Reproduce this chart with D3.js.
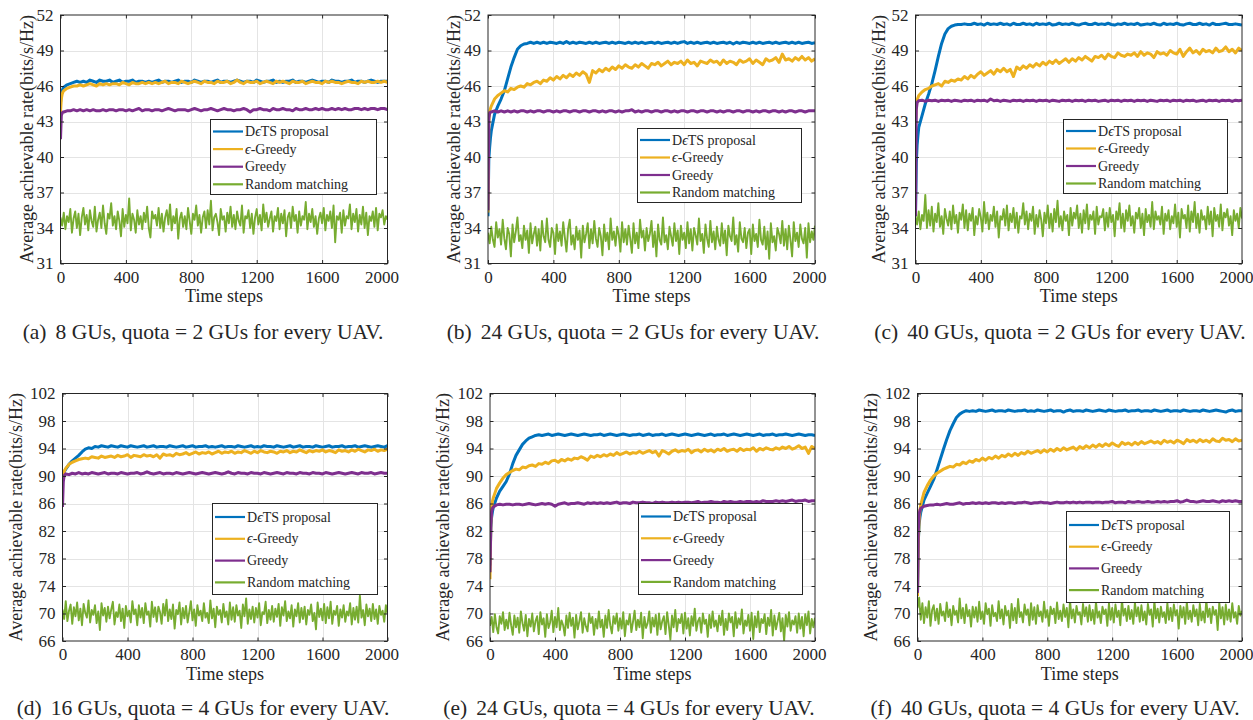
<!DOCTYPE html>
<html>
<head>
<meta charset="utf-8">
<script src="https://cdn.jsdelivr.net/npm/d3@7"></script>
<style>
  html, body { margin: 0; padding: 0; background: #fff; }
  svg { display: block; }
  svg text { font-family: "Liberation Serif", "Times New Roman", Times, "Nimbus Roman", "Noto Serif", "DejaVu Serif", serif !important; fill: #262626; }
</style>
</head>
<body>
<svg id="fig" width="1253" height="720"></svg>
<script>
// Time-step grid for the learning curves (dense at the start where rates climb fast)
const steps = [0, 5, 10, 15, ...d3.range(20, 2001, 20)];
// Finer time-step grid for the random-matching baseline
const stepsRandom = d3.range(0, 2001, 10);

const seriesNames = ["DϵTS proposal", "ϵ-Greedy", "Greedy", "Random matching"];
const xTicks = [0, 400, 800, 1200, 1600, 2000];
const yTicksTop = [31, 34, 37, 40, 43, 46, 49, 52];
const yTicksBottom = [66, 70, 74, 78, 82, 86, 90, 94, 98, 102];
const captionTags = ["(a)", "(b)", "(c)", "(d)", "(e)", "(f)"];
const captionTexts = [
  "8 GUs, quota = 2 GUs for every UAV.",
  "24 GUs, quota = 2 GUs for every UAV.",
  "40 GUs, quota = 2 GUs for every UAV.",
  "16 GUs, quota = 4 GUs for every UAV.",
  "24 GUs, quota = 4 GUs for every UAV.",
  "40 GUs, quota = 4 GUs for every UAV."
];

// ---- (a) 8 GUs, quota 2 ----
const detsA = [
  44.6,45.3,45.6,45.8,45.9,46.1,46.2,46.3,46.4,46.3,
  46.4,46.3,46.5,46.4,46.3,46.5,46.4,46.4,46.5,46.3,
  46.4,46.5,46.3,46.4,46.4,46.5,46.3,46.4,46.4,46.3,
  46.4,46.3,46.4,46.5,46.3,46.4,46.4,46.3,46.4,46.5,
  46.3,46.4,46.4,46.3,46.5,46.4,46.3,46.4,46.4,46.3,
  46.4,46.5,46.3,46.4,46.4,46.3,46.4,46.5,46.4,46.3,
  46.4,46.4,46.3,46.5,46.4,46.3,46.4,46.4,46.5,46.3,
  46.4,46.3,46.4,46.4,46.5,46.3,46.4,46.4,46.3,46.4,
  46.5,46.4,46.3,46.4,46.4,46.3,46.5,46.4,46.4,46.3,
  46.4,46.4,46.5,46.3,46.4,46.4,46.3,46.4,46.5,46.4,
  46.3,46.4,46.4,46.4
];
const epsA = [
  43.8,44.9,45.3,45.5,45.6,45.8,45.9,46.0,46.0,46.1,
  46.0,46.1,46.2,46.1,46.0,46.2,46.1,46.2,46.1,46.2,
  46.2,46.1,46.3,46.2,46.1,46.3,46.2,46.2,46.3,46.2,
  46.3,46.2,46.3,46.2,46.3,46.4,46.2,46.3,46.3,46.2,
  46.4,46.3,46.2,46.3,46.4,46.3,46.2,46.4,46.3,46.3,
  46.2,46.4,46.3,46.3,46.4,46.2,46.3,46.5,46.3,46.2,
  46.4,46.3,46.3,46.4,46.2,46.3,46.4,46.3,46.2,46.4,
  46.3,46.4,46.3,46.2,46.4,46.3,46.3,46.4,46.2,46.3,
  46.4,46.3,46.3,46.2,46.4,46.3,46.4,46.3,46.3,46.2,
  46.3,46.4,46.3,46.3,46.2,46.4,46.3,46.4,46.3,46.3,
  46.4,46.3,46.4,46.3
];
const greedyA = [
  41.5,43.5,43.7,43.8,43.8,43.9,43.9,44.0,43.9,44.0,
  43.9,44.0,43.9,44.0,43.9,43.9,44.0,43.9,44.0,44.0,
  43.9,44.0,44.0,43.9,44.0,43.9,44.0,44.1,43.9,44.0,
  44.0,43.9,44.0,44.0,43.9,44.0,44.1,44.0,43.9,44.0,
  44.0,44.0,43.9,44.0,44.1,44.0,43.9,44.0,44.0,44.1,
  44.0,43.9,44.0,44.1,44.0,44.0,43.9,44.0,44.0,44.1,
  44.0,43.8,44.0,44.0,44.1,44.0,44.0,43.9,44.1,44.0,
  44.0,44.1,44.0,44.0,43.9,44.1,44.0,44.0,44.1,44.0,
  44.0,44.1,44.0,44.1,44.0,44.0,44.1,44.0,44.1,44.0,
  44.1,44.0,44.0,44.1,44.1,44.0,44.1,44.0,44.1,44.1,
  44.0,44.1,44.1,44.0
];
const randomA = [
  34.9,34.2,35.3,33.9,35.0,34.5,35.6,33.6,34.8,35.4,
  34.0,35.2,33.4,34.9,35.7,34.3,35.1,33.8,35.5,34.6,
  34.1,35.8,33.7,34.7,35.3,34.0,35.9,34.4,33.5,35.2,
  34.8,36.1,34.2,35.0,33.9,35.4,34.6,33.3,35.6,34.1,
  35.1,34.4,36.5,33.8,35.2,34.7,33.6,35.5,34.3,35.0,
  33.9,35.3,34.5,35.8,34.0,33.2,35.4,34.8,35.1,34.2,
  35.7,34.0,35.2,33.7,34.9,35.5,34.3,36.0,33.8,35.0,
  34.4,35.6,33.1,34.8,35.3,34.1,35.0,33.9,35.7,34.6,
  33.5,35.2,34.7,35.9,34.2,35.1,33.6,34.9,35.4,34.0,
  35.5,34.3,36.3,33.8,34.9,35.2,34.5,33.4,35.6,34.7,
  35.0,33.7,35.3,34.4,35.8,34.1,35.1,33.9,35.4,34.6,
  34.2,35.9,33.6,35.0,34.8,35.5,34.0,35.2,33.5,34.9,
  35.6,34.3,35.1,33.8,36.0,34.5,35.3,34.1,34.8,35.4,
  33.7,35.0,34.6,35.7,33.9,35.2,34.4,35.5,33.3,34.9,
  35.3,34.0,35.8,34.6,35.1,33.6,35.4,34.2,35.0,34.7,
  36.2,33.9,35.2,34.5,35.6,34.1,35.0,33.5,34.8,35.3,
  34.4,35.7,33.8,35.1,34.6,35.4,34.0,35.9,32.8,35.0,
  34.7,35.3,33.6,35.5,34.2,35.0,34.8,36.0,33.9,35.2,
  34.5,35.6,33.7,35.1,34.3,35.8,34.0,35.3,33.4,35.0,
  34.6,35.4,34.1,35.7,33.8,35.2,34.9,35.5,34.3,35.0,
  34.7
];

// ---- (b) 24 GUs, quota 2 ----
const detsB = [
  35.0,39.8,40.8,41.6,42.2,43.6,44.3,44.9,45.6,46.6,
  47.6,48.4,49.1,49.4,49.55,49.6,49.7,49.6,49.7,49.6,
  49.7,49.6,49.7,49.65,49.6,49.7,49.6,49.75,49.6,49.7,
  49.6,49.7,49.65,49.6,49.7,49.6,49.7,49.6,49.65,49.7,
  49.6,49.7,49.6,49.7,49.65,49.6,49.7,49.6,49.7,49.6,
  49.7,49.6,49.65,49.7,49.6,49.7,49.6,49.65,49.7,49.6,
  49.7,49.6,49.7,49.75,49.6,49.7,49.6,49.7,49.6,49.65,
  49.7,49.6,49.7,49.6,49.65,49.7,49.6,49.7,49.55,49.7,
  49.6,49.7,49.65,49.6,49.7,49.6,49.7,49.6,49.65,49.7,
  49.6,49.7,49.6,49.65,49.7,49.6,49.7,49.6,49.7,49.6,
  49.65,49.7,49.6,49.65
];
const epsB = [
  35.3,43.0,43.8,44.1,44.3,44.9,45.2,45.4,45.6,45.5,
  45.8,45.7,45.9,46.0,45.9,46.2,46.1,46.3,46.4,46.2,
  46.5,46.4,46.7,46.5,46.8,46.6,46.9,46.7,47.0,46.8,
  47.1,46.9,47.2,47.0,46.3,47.3,47.1,47.4,47.2,47.5,
  47.3,47.6,47.4,47.7,47.5,47.8,47.6,47.5,47.8,47.6,
  47.9,47.7,47.5,47.9,47.8,48.0,47.7,47.9,48.1,47.8,
  48.0,47.9,48.1,47.8,48.2,47.9,48.0,47.7,48.1,48.0,
  47.9,48.2,48.0,48.1,47.8,48.2,47.9,48.1,48.0,47.8,
  48.2,48.0,48.1,48.3,47.9,48.2,48.0,47.8,48.3,48.1,
  48.2,48.4,48.0,48.7,48.2,48.3,48.1,48.4,48.2,48.5,
  48.2,48.4,48.1,48.3
];
const greedyB = [
  35.5,43.3,43.7,43.8,43.8,43.9,43.8,43.9,43.8,43.9,
  43.8,43.9,43.8,43.9,43.9,43.8,43.9,43.8,43.9,43.9,
  43.8,43.9,43.9,43.8,43.9,43.8,43.9,43.9,43.8,43.9,
  43.9,43.8,43.9,43.9,43.8,43.9,43.9,43.8,43.9,43.8,
  43.9,43.9,43.8,43.9,43.8,43.9,43.9,44.0,43.8,43.9,
  43.8,43.9,43.9,43.8,43.9,43.9,43.8,43.9,43.9,43.8,
  43.9,43.8,43.9,43.9,43.8,43.9,43.9,43.8,43.9,43.9,
  43.8,43.9,43.9,43.8,43.9,43.8,43.9,43.9,43.8,43.9,
  43.9,43.8,43.9,43.9,43.8,43.9,43.8,43.9,43.9,43.8,
  43.9,43.9,43.8,43.9,43.8,43.9,43.9,43.8,43.9,43.9,
  43.8,43.9,43.9,43.9
];
const randomB = [
  33.6,32.7,34.1,33.0,32.4,34.5,33.2,33.9,32.6,34.7,
  33.1,32.2,34.0,33.5,31.6,34.3,32.8,33.7,34.9,32.9,
  33.4,32.3,34.2,33.0,33.8,31.9,34.4,32.7,33.5,34.1,
  32.5,33.9,32.1,34.6,33.3,32.8,34.8,33.0,32.4,34.0,
  33.6,31.8,34.3,32.9,33.7,32.5,34.5,33.2,32.0,33.9,
  34.7,32.6,33.4,32.2,34.1,33.0,33.8,31.5,34.2,32.8,
  33.5,34.4,32.3,33.9,32.7,34.6,33.1,32.4,34.0,33.3,
  31.7,34.3,32.9,33.6,32.2,34.8,33.0,33.7,32.5,34.1,
  33.4,32.0,34.5,32.8,33.9,32.6,34.2,33.1,31.9,34.4,
  32.7,33.6,32.3,34.7,33.2,33.8,32.1,34.0,32.9,33.5,
  34.6,32.4,33.7,31.6,34.3,33.0,32.6,34.9,32.8,33.4,
  32.2,34.1,33.3,32.5,34.4,32.9,33.8,31.8,34.2,33.0,
  33.6,32.3,34.5,32.7,33.9,32.1,34.0,33.4,32.6,34.8,
  32.9,33.5,31.9,34.3,33.1,32.4,34.6,32.8,33.7,32.2,
  34.1,33.0,32.5,34.4,32.7,33.8,31.7,34.2,33.3,32.9,
  34.9,32.6,33.4,32.0,34.5,33.1,32.8,34.0,32.3,33.6,
  33.9,31.8,34.3,32.9,33.5,32.4,34.7,33.0,32.6,34.1,
  32.2,33.7,31.4,34.4,32.8,33.3,32.1,34.0,33.5,32.7,
  34.6,32.5,33.9,32.2,34.2,33.0,31.6,34.5,32.9,33.6,
  32.4,34.3,33.1,32.7,34.0,31.5,34.4,32.8,33.7,33.0,
  34.2
];

// ---- (c) 40 GUs, quota 2 ----
const detsC = [
  35.0,39.5,41.0,41.8,42.5,43.5,44.5,45.3,46.2,47.3,
  48.5,49.6,50.4,50.85,51.05,51.15,51.2,51.2,51.25,51.2,
  51.2,51.3,51.2,51.25,51.15,51.3,51.2,51.25,51.2,51.3,
  51.2,51.25,51.15,51.3,51.2,51.2,51.3,51.2,51.25,51.15,
  51.3,51.2,51.25,51.2,51.3,51.15,51.2,51.3,51.2,51.25,
  51.2,51.3,51.2,51.15,51.25,51.3,51.2,51.2,51.3,51.2,
  51.25,51.2,51.3,51.2,51.15,51.25,51.2,51.3,51.2,51.25,
  51.2,51.3,51.15,51.2,51.25,51.2,51.3,51.2,51.15,51.3,
  51.2,51.25,51.2,51.3,51.2,51.15,51.25,51.3,51.2,51.2,
  51.3,51.2,51.25,51.15,51.3,51.2,51.2,51.25,51.3,51.2,
  51.2,51.25,51.2,51.15
];
const epsC = [
  43.0,44.3,44.8,45.0,45.2,45.5,45.7,45.8,46.0,46.1,
  46.2,46.0,46.4,46.3,46.5,46.4,46.6,46.5,46.8,46.6,
  46.9,46.7,47.0,47.2,46.9,47.1,47.3,47.0,47.4,47.2,
  47.5,47.2,47.4,46.8,47.6,47.4,47.7,47.5,47.8,47.6,
  47.9,47.7,48.0,47.8,48.1,47.9,48.2,47.9,48.1,48.3,
  48.0,48.3,48.1,48.4,48.2,48.5,48.3,48.1,48.5,48.4,
  48.6,48.3,48.7,48.5,48.4,48.8,48.6,48.5,48.7,48.6,
  48.8,48.5,48.9,48.6,48.8,48.7,48.4,48.9,48.7,48.8,
  48.6,49.0,48.8,48.7,49.1,48.5,48.9,49.2,48.8,49.0,
  48.7,49.1,48.9,49.0,48.8,49.2,48.9,49.0,49.3,48.9,
  49.1,48.8,49.2,49.0
];
const greedyC = [
  35.0,44.0,44.6,44.7,44.75,44.8,44.7,44.8,44.75,44.8,
  44.7,44.8,44.75,44.8,44.7,44.8,44.75,44.7,44.8,44.75,
  44.8,44.7,44.8,44.75,44.8,44.7,44.9,44.75,44.8,44.7,
  44.8,44.75,44.7,44.8,44.75,44.8,44.7,44.8,44.75,44.8,
  44.7,44.8,44.75,44.8,44.7,44.8,44.75,44.7,44.8,44.75,
  44.8,44.7,44.8,44.75,44.8,44.7,44.8,44.75,44.8,44.7,
  44.75,44.8,44.7,44.8,44.75,44.8,44.7,44.8,44.75,44.8,
  44.7,44.8,44.75,44.8,44.7,44.8,44.75,44.7,44.8,44.75,
  44.8,44.7,44.8,44.75,44.8,44.7,44.8,44.75,44.8,44.7,
  44.75,44.8,44.7,44.8,44.75,44.8,44.7,44.8,44.75,44.8,
  44.7,44.8,44.75,44.8
];
const randomC = [
  35.0,34.3,35.4,33.9,35.1,34.6,36.8,34.0,35.5,34.2,
  35.8,33.7,35.2,34.5,36.1,34.1,35.0,33.5,35.6,34.8,
  34.2,35.4,33.9,35.9,34.4,35.1,33.6,35.3,34.7,36.0,
  34.0,35.5,33.8,35.2,34.6,35.7,33.4,35.0,34.3,35.6,
  34.9,33.7,36.2,34.4,35.3,33.9,35.1,34.6,35.8,34.1,
  35.4,33.2,35.0,34.7,35.6,34.2,35.9,33.8,35.2,34.5,
  35.7,34.0,35.3,33.6,35.0,34.8,36.1,34.3,35.4,33.9,
  35.2,34.6,35.8,33.5,35.1,34.1,35.5,34.7,33.3,35.3,
  34.4,35.9,34.0,35.2,33.7,35.6,34.5,36.3,34.1,35.0,
  33.8,35.4,34.6,35.1,33.4,35.7,34.2,35.3,34.8,35.9,
  34.0,35.2,33.6,35.5,34.4,36.0,33.9,35.1,34.7,35.4,
  33.5,35.8,34.3,35.0,34.9,35.6,33.8,35.3,34.1,35.7,
  34.5,35.1,33.3,35.4,34.7,36.1,34.0,35.2,33.7,35.5,
  34.6,35.9,34.2,35.0,33.6,35.3,34.8,35.7,34.0,35.2,
  33.4,35.6,34.5,35.1,34.1,36.2,33.9,35.4,34.7,35.0,
  34.3,35.8,33.5,35.2,34.6,35.5,33.9,35.0,34.4,36.0,
  34.1,35.3,33.2,35.6,34.8,35.1,34.0,35.9,33.7,35.4,
  34.5,36.2,34.0,35.2,33.6,35.5,34.7,35.0,33.9,35.8,
  34.3,35.4,33.3,35.7,34.6,35.1,34.1,36.0,33.8,35.3,
  34.9,35.6,34.2,35.0,33.4,35.5,34.6,35.2,34.0,35.7,
  34.8
];

// ---- (d) 16 GUs, quota 4 ----
const detsD = [
  89.0,90.0,90.5,90.8,91.0,91.7,92.2,92.6,93.0,93.5,
  93.9,94.1,94.0,94.3,94.2,94.4,94.3,94.2,94.4,94.3,
  94.2,94.4,94.3,94.2,94.4,94.3,94.2,94.3,94.4,94.2,
  94.3,94.4,94.2,94.3,94.3,94.2,94.4,94.3,94.2,94.3,
  94.4,94.2,94.3,94.4,94.2,94.3,94.3,94.4,94.2,94.3,
  94.2,94.3,94.4,94.2,94.3,94.3,94.2,94.4,94.3,94.2,
  94.3,94.4,94.2,94.3,94.2,94.4,94.3,94.3,94.2,94.4,
  94.3,94.2,94.3,94.4,94.2,94.3,94.4,94.2,94.3,94.3,
  94.2,94.4,94.3,94.2,94.3,94.4,94.2,94.3,94.3,94.4,
  94.2,94.3,94.3,94.4,94.2,94.3,94.4,94.3,94.2,94.3,
  94.4,94.3,94.2,94.4
];
const epsD = [
  89.5,90.2,90.6,90.9,91.1,91.7,92.0,92.2,92.4,92.5,
  92.6,92.5,92.8,92.7,92.6,92.9,92.7,92.8,92.9,92.7,
  93.0,92.8,92.9,93.1,92.7,93.0,92.9,92.8,93.1,92.9,
  93.0,92.8,93.1,92.6,93.2,93.0,93.1,92.9,93.3,93.1,
  93.2,93.4,93.1,93.3,93.5,93.2,93.4,93.3,93.5,93.2,
  93.4,93.6,93.3,93.5,93.4,93.6,93.3,93.5,93.4,93.7,
  93.5,93.3,93.6,93.4,93.7,93.5,93.4,93.6,93.5,93.3,
  93.6,93.5,93.7,93.4,93.6,93.5,93.8,93.6,93.4,93.7,
  93.5,93.7,93.6,93.8,93.5,93.7,93.6,93.4,93.8,93.6,
  93.7,93.5,93.8,93.6,93.9,93.7,93.5,93.8,93.7,93.9,
  93.6,93.8,93.7,93.9
];
const greedyD = [
  85.5,89.2,90.0,90.2,90.3,90.2,90.4,90.3,90.5,90.3,
  90.4,90.3,90.5,90.4,90.3,90.4,90.5,90.3,90.4,90.4,
  90.3,90.5,90.4,90.3,90.4,90.4,90.5,90.3,90.4,90.6,
  90.4,90.3,90.4,90.5,90.3,90.4,90.4,90.3,90.5,90.4,
  90.3,90.4,90.5,90.4,90.3,90.4,90.5,90.4,90.3,90.4,
  90.5,90.4,90.3,90.4,90.6,90.4,90.3,90.5,90.4,90.4,
  90.3,90.5,90.4,90.4,90.3,90.5,90.4,90.3,90.4,90.5,
  90.4,90.3,90.5,90.4,90.4,90.3,90.5,90.4,90.4,90.3,
  90.5,90.4,90.4,90.3,90.5,90.4,90.3,90.4,90.5,90.4,
  90.3,90.4,90.5,90.4,90.3,90.5,90.4,90.4,90.5,90.3,
  90.4,90.5,90.4,90.4
];
const randomD = [
  70.6,69.2,71.8,68.9,70.4,71.3,68.5,70.9,69.6,71.6,
  69.0,70.7,68.3,71.4,70.1,69.4,71.9,68.7,70.5,69.8,
  71.2,68.6,70.3,67.6,71.5,69.7,70.8,68.8,71.0,69.3,
  70.6,71.7,68.4,70.2,69.5,71.3,68.9,70.7,67.9,71.1,
  69.6,70.4,68.7,71.8,69.9,70.6,68.3,71.2,69.4,70.8,
  68.6,71.5,69.8,70.3,68.1,71.7,69.5,70.9,68.8,71.0,
  70.2,68.5,71.4,69.7,72.0,68.9,70.6,69.2,71.3,67.8,
  70.5,69.9,71.6,68.4,70.8,69.3,71.1,68.7,70.2,71.8,
  69.0,70.6,68.2,71.2,69.7,70.4,68.9,71.5,69.4,70.1,
  68.6,71.9,69.3,70.7,68.0,71.0,69.8,70.5,68.7,71.4,
  69.5,70.3,68.4,71.6,69.1,70.9,68.8,71.2,69.7,70.4,
  67.9,71.3,69.6,72.2,68.5,70.6,69.2,71.0,68.7,70.8,
  69.4,71.5,68.3,70.2,69.9,71.7,68.6,70.5,69.1,71.1,
  68.8,70.7,69.5,71.4,68.2,70.9,69.7,71.8,68.9,70.3,
  69.3,71.2,68.1,70.6,69.6,71.5,68.7,70.8,69.2,71.0,
  68.4,70.5,69.8,71.3,68.9,70.1,67.7,71.6,69.5,70.7,
  69.0,71.4,68.6,70.9,69.3,71.7,68.5,70.4,69.8,71.1,
  68.2,70.6,69.4,71.2,68.8,70.3,69.7,71.5,68.4,70.8,
  69.1,71.0,68.7,72.6,69.4,70.5,68.3,71.3,69.6,70.7,
  68.9,71.4,69.2,70.6,68.5,71.1,69.8,70.4,68.8,71.2,
  70.0
];

// ---- (e) 24 GUs, quota 4 ----
const detsE = [
  77.0,82.5,84.0,84.8,85.4,86.8,87.8,88.5,89.2,90.3,
  91.8,93.0,93.8,94.6,95.1,95.5,95.7,95.9,96.0,95.9,
  96.0,96.1,95.9,96.0,96.1,96.0,95.9,96.0,96.1,96.0,
  95.9,96.0,96.1,96.0,95.9,96.0,96.0,96.1,95.9,96.0,
  96.1,96.0,95.9,96.0,96.1,96.0,95.9,96.0,96.0,96.1,
  95.9,96.0,96.1,95.9,96.0,96.0,96.1,95.9,96.0,96.1,
  96.0,95.9,96.0,96.1,96.0,95.9,96.0,96.1,96.0,95.9,
  96.0,96.1,95.9,96.0,96.0,96.1,95.9,96.0,96.1,96.0,
  95.9,96.0,96.1,96.0,95.9,96.0,96.1,95.9,96.0,96.0,
  96.1,95.9,96.0,96.0,96.1,96.0,95.9,96.0,96.1,96.0,
  95.9,96.0,96.0,95.9
];
const epsE = [
  75.0,83.0,85.5,86.3,86.8,88.2,89.0,89.7,90.2,90.5,
  90.8,91.0,90.9,91.3,91.2,91.5,91.6,91.4,91.8,91.7,
  92.0,91.8,92.2,92.3,92.0,92.4,92.2,92.5,92.3,92.6,
  92.5,92.8,92.6,92.3,92.9,92.7,93.0,92.8,93.1,92.9,
  93.2,93.0,93.4,93.1,93.3,93.5,93.2,93.4,93.3,93.6,
  93.3,93.5,93.7,93.4,93.6,92.9,93.7,93.5,93.2,93.6,
  93.8,93.5,93.7,93.6,93.9,93.4,93.7,93.8,93.5,93.9,
  93.6,93.8,93.5,93.9,93.7,94.0,93.6,93.8,93.9,93.6,
  94.0,93.7,93.9,93.8,94.1,93.6,94.0,93.8,94.1,93.9,
  93.8,94.1,93.9,94.2,94.0,94.3,93.9,94.1,94.4,94.0,
  94.2,93.3,94.3,94.0
];
const greedyE = [
  76.0,83.0,84.8,85.3,85.5,85.8,85.9,85.8,85.9,85.9,
  85.8,85.9,85.9,85.8,85.9,86.0,85.9,85.8,85.9,86.0,
  85.9,86.0,85.9,85.6,85.9,86.0,86.1,85.9,86.0,86.0,
  86.1,86.0,85.9,86.1,86.0,86.1,86.0,86.1,86.0,86.1,
  86.0,86.1,86.2,86.0,86.1,86.1,86.0,86.2,86.1,86.1,
  86.2,86.1,86.1,86.0,86.2,86.1,86.2,86.1,86.1,86.2,
  86.1,86.2,86.1,86.2,86.2,86.1,86.2,86.3,86.1,86.2,
  86.2,86.3,86.2,86.2,86.1,86.3,86.2,86.3,86.2,86.2,
  86.3,86.2,86.3,86.3,86.2,86.3,86.2,86.4,86.3,86.3,
  86.3,86.4,86.3,86.4,86.3,86.4,86.5,86.3,86.4,86.4,
  86.5,86.3,86.4,86.4
];
const randomE = [
  68.2,69.5,67.3,69.9,68.0,67.1,69.6,68.5,70.2,67.6,
  69.1,67.8,70.1,68.3,66.9,69.7,68.0,69.4,67.2,70.3,
  68.6,67.5,69.8,66.7,69.2,68.1,70.0,67.4,68.9,69.6,
  67.0,70.2,68.4,69.3,66.6,69.9,67.9,68.7,70.4,67.3,
  69.5,68.0,70.8,67.6,69.0,68.3,66.8,69.7,67.9,70.1,
  68.2,69.4,66.5,69.8,67.7,68.9,70.2,67.2,69.3,68.1,
  67.4,70.0,68.6,69.5,66.9,69.2,67.8,70.3,68.0,69.1,
  66.6,69.7,67.9,70.5,68.3,67.1,69.6,68.5,70.0,67.5,
  69.3,67.8,70.2,66.7,69.0,68.4,69.9,67.3,68.8,70.4,
  67.6,69.1,68.0,70.1,66.4,69.5,67.9,68.6,70.3,67.2,
  69.4,68.1,69.8,66.9,70.0,67.7,68.9,69.6,67.0,70.2,
  68.3,66.2,69.7,68.0,70.5,67.4,69.2,68.6,69.9,67.1,
  70.1,67.8,69.3,66.8,69.6,68.2,70.7,67.5,68.9,69.4,
  67.2,70.0,68.5,69.1,66.6,69.8,67.9,70.3,68.1,69.0,
  67.4,69.7,68.3,70.4,66.9,69.2,67.6,70.0,68.7,69.5,
  66.7,70.2,67.9,69.3,68.4,70.6,67.1,69.0,68.2,69.8,
  67.5,70.1,66.3,69.6,68.0,70.3,67.3,69.2,68.6,69.9,
  67.0,69.4,68.2,70.5,66.8,69.7,67.7,68.9,70.1,67.4,
  69.3,66.0,69.8,68.1,70.2,67.5,69.0,68.4,69.6,67.2,
  70.0,67.8,69.5,66.7,69.9,68.3,70.3,67.1,69.2,68.0,
  69.4
];

// ---- (f) 40 GUs, quota 4 ----
const detsF = [
  73.0,80.5,83.0,84.0,84.7,86.5,87.5,88.5,89.5,90.9,
  92.4,93.9,95.3,96.6,97.6,98.5,99.0,99.3,99.5,99.4,
  99.5,99.4,99.6,99.5,99.4,99.5,99.6,99.4,99.5,99.5,
  99.4,99.6,99.5,99.4,99.5,99.5,99.6,99.4,99.5,99.4,
  99.6,99.5,99.4,99.5,99.6,99.4,99.5,99.5,99.3,99.5,
  99.6,99.4,99.5,99.5,99.4,99.6,99.5,99.4,99.5,99.6,
  99.5,99.4,99.6,99.5,99.4,99.5,99.5,99.6,99.4,99.5,
  99.5,99.6,99.4,99.5,99.5,99.4,99.6,99.5,99.4,99.5,
  99.6,99.4,99.5,99.5,99.4,99.6,99.5,99.4,99.5,99.5,
  99.4,99.6,99.5,99.4,99.5,99.6,99.5,99.4,99.3,99.5,
  99.6,99.4,99.5,99.5
];
const epsF = [
  72.5,80.5,83.5,85.0,85.8,87.6,88.6,89.4,90.0,90.4,
  90.7,91.0,91.2,91.4,91.3,91.7,91.6,92.0,91.8,92.2,
  92.0,92.4,92.2,92.6,92.3,92.7,92.5,92.9,92.6,93.0,
  92.8,93.2,92.9,93.3,93.0,93.4,93.2,93.6,93.3,93.5,
  93.7,93.4,93.8,93.5,93.9,93.6,94.0,93.7,94.1,93.8,
  94.0,94.2,93.8,94.3,94.0,94.4,94.1,94.5,94.2,94.6,
  94.3,94.7,94.4,94.8,94.5,94.3,94.9,94.6,94.8,94.5,
  94.9,94.6,95.0,94.7,94.9,95.1,94.8,95.0,94.7,95.2,
  94.9,95.1,94.8,95.2,95.0,94.7,95.3,95.0,95.2,94.9,
  95.3,95.0,95.2,94.9,95.4,95.1,95.0,95.5,95.2,95.3,
  95.0,95.4,95.1,95.2
];
const greedyF = [
  73.0,82.0,84.5,85.0,85.3,85.6,85.7,85.8,85.8,85.9,
  85.8,85.9,86.0,85.9,85.9,86.0,86.1,85.9,86.0,86.0,
  86.1,86.0,86.1,86.0,86.1,86.0,86.1,86.1,86.0,86.1,
  86.0,86.1,86.1,86.0,86.1,86.1,86.2,86.1,86.0,86.1,
  86.1,86.2,86.1,86.1,86.0,86.1,86.2,86.1,86.1,86.2,
  86.1,86.2,86.1,86.2,86.1,86.2,86.2,86.1,86.2,86.2,
  86.1,86.2,86.2,86.3,86.1,86.2,86.2,86.1,86.3,86.2,
  86.2,86.3,86.2,86.2,86.3,86.2,86.2,86.3,86.2,86.3,
  86.2,86.3,86.3,86.4,86.2,86.3,86.5,86.3,86.3,86.2,
  86.3,86.4,86.3,86.3,86.4,86.3,86.2,86.4,86.3,86.4,
  86.3,86.4,86.3,86.3
];
const randomF = [
  70.8,72.3,69.1,71.5,68.6,70.9,69.4,71.8,68.2,70.5,
  71.2,69.0,70.7,68.5,71.4,69.7,70.3,68.9,71.6,69.5,
  70.6,68.3,71.1,69.8,70.4,68.7,72.2,69.3,70.8,68.6,
  71.3,69.6,70.5,68.1,71.0,69.4,70.9,68.8,71.7,69.2,
  70.3,68.5,71.5,69.9,70.7,68.2,71.2,69.6,70.1,68.9,
  71.8,69.3,70.6,68.4,71.1,69.7,70.4,67.9,71.4,69.0,
  70.8,68.6,72.1,69.5,70.2,68.7,71.3,69.8,70.6,68.3,
  71.5,69.1,70.9,68.5,71.2,69.6,70.3,68.8,71.7,69.4,
  70.5,68.2,71.0,69.9,70.7,68.6,71.6,69.2,70.4,68.9,
  71.3,69.5,70.8,68.0,71.9,69.3,70.6,68.7,71.1,69.8,
  70.2,68.4,71.4,69.6,70.9,68.8,71.2,69.0,70.5,68.5,
  71.7,69.4,70.3,68.6,71.0,69.9,70.6,68.2,71.5,69.1,
  70.8,68.7,71.3,69.5,70.4,68.3,72.0,69.7,70.7,68.9,
  71.1,69.2,70.5,68.5,71.6,69.6,70.9,68.8,71.2,69.0,
  70.3,68.4,71.4,69.8,70.6,68.1,71.8,69.3,70.7,68.7,
  71.0,69.5,70.2,68.6,71.5,69.1,70.8,68.9,71.3,69.7,
  70.5,67.8,71.1,69.4,70.9,68.5,71.7,69.2,70.4,68.8,
  71.2,69.6,70.6,68.3,71.4,69.0,70.3,68.7,71.9,69.5,
  70.7,68.6,71.0,69.8,70.5,67.6,71.6,69.3,70.9,68.4,
  71.3,69.1,70.6,68.8,71.5,69.4,70.2,68.5,71.1,69.7,
  70.4
];

// ---------- styling ----------
const colors = ["#0072BD", "#EDB120", "#7E2F8E", "#77AC30"];
const lineWidths = [3, 3, 3, 1.9];
const axisColor = "#262626";
const gridColor = "#e4e4e4";
const serif = "'Liberation Serif', 'Times New Roman', Times, 'Nimbus Roman', 'Noto Serif', 'DejaVu Serif', serif";

// Panel layout: plot box, label offsets, legend box and caption position
const panels = [
  { series: [detsA, epsA, greedyA, randomA], yDomain: [31, 52], yTicks: yTicksTop,
    box: [60.5, 15, 387.5, 263.5], ylabOff: 34, legend: [210, 119, 166, 75, 12.5, 17.6], capX: 203, capY: 339 },
  { series: [detsB, epsB, greedyB, randomB], yDomain: [31, 52], yTicks: yTicksTop,
    box: [488, 15, 815, 263.5], ylabOff: 34, legend: [637, 128, 164, 74, 12, 17.5], capX: 633, capY: 339 },
  { series: [detsC, epsC, greedyC, randomC], yDomain: [31, 52], yTicks: yTicksTop,
    box: [915.5, 15, 1242, 263.5], ylabOff: 37, legend: [1063, 119, 164, 74, 12, 17.5], capX: 1060, capY: 339 },
  { series: [detsD, epsD, greedyD, randomD], yDomain: [66, 102], yTicks: yTicksBottom,
    box: [62.5, 393.5, 387.5, 641], ylabOff: 47, legend: [212, 503, 165, 91, 14, 21.8], capX: 203, capY: 715 },
  { series: [detsE, epsE, greedyE, randomE], yDomain: [66, 102], yTicks: yTicksBottom,
    box: [490, 393.5, 815, 641], ylabOff: 47, legend: [638, 503, 164, 91, 13.5, 21.8], capX: 629, capY: 715 },
  { series: [detsF, epsF, greedyF, randomF], yDomain: [66, 102], yTicks: yTicksBottom,
    box: [917.5, 393.5, 1242, 641], ylabOff: 47, legend: [1066, 511, 163, 91, 14, 21.7], capX: 1055, capY: 715 }
];
// x grid used by each series, in legend order
const seriesSteps = [steps, steps, steps, stepsRandom];

const svg = d3.select("#fig");

// Writes a label, setting every epsilon in italic
function richText(sel, str) {
  str.split(/(ϵ)/).forEach(part => {
    if (!part) return;
    const t = sel.append("tspan").text(part);
    if (part === "ϵ") t.attr("font-style", "italic");
  });
}

panels.forEach((p, pi) => {
  const [x0, y0, x1, y1] = p.box;
  const x = d3.scaleLinear().domain([0, 2000]).range([x0, x1]);
  const y = d3.scaleLinear().domain(p.yDomain).range([y1, y0]);
  const g = svg.append("g").attr("font-family", serif);

  // background
  g.append("rect").attr("x", x0).attr("y", y0).attr("width", x1 - x0).attr("height", y1 - y0)
    .attr("fill", "#fff");

  // grid
  const grid = g.append("g").attr("stroke", gridColor).attr("stroke-width", 1);
  xTicks.slice(1, -1).forEach(t => grid.append("line")
    .attr("x1", Math.round(x(t)) + 0.5).attr("x2", Math.round(x(t)) + 0.5).attr("y1", y0).attr("y2", y1));
  p.yTicks.slice(1, -1).forEach(t => grid.append("line")
    .attr("y1", Math.round(y(t)) + 0.5).attr("y2", Math.round(y(t)) + 0.5).attr("x1", x0).attr("x2", x1));

  // curves
  const clipId = "clip" + pi;
  g.append("clipPath").attr("id", clipId).append("rect")
    .attr("x", x0).attr("y", y0).attr("width", x1 - x0).attr("height", y1 - y0);
  const curves = g.append("g").attr("clip-path", `url(#${clipId})`);
  p.series.forEach((vals, si) => {
    const xs = seriesSteps[si];
    const line = d3.line().x((d, i) => x(xs[i])).y(d => y(d));
    curves.append("path").datum(vals.slice(0, xs.length)).attr("d", line)
      .attr("fill", "none").attr("stroke", colors[si]).attr("stroke-width", lineWidths[si])
      .attr("stroke-linejoin", "round");
  });

  // axes: ticks inside, mirrored on every side
  const tickLen = 3.5;
  const fmt = d3.format("d");
  const axB = d3.axisBottom(x).tickValues(xTicks).tickFormat(fmt).tickSizeInner(-tickLen).tickSizeOuter(0).tickPadding(7);
  const axT = d3.axisTop(x).tickValues(xTicks).tickSizeInner(-tickLen).tickSizeOuter(0).tickFormat("");
  const axL = d3.axisLeft(y).tickValues(p.yTicks).tickFormat(fmt).tickSizeInner(-tickLen).tickSizeOuter(0).tickPadding(7);
  const axR = d3.axisRight(y).tickValues(p.yTicks).tickSizeInner(-tickLen).tickSizeOuter(0).tickFormat("");
  const style = s => {
    s.attr("font-family", serif).attr("font-size", 17);
    s.select(".domain").remove();
    s.selectAll("line").attr("stroke", axisColor);
    s.selectAll("text").attr("fill", axisColor);
  };
  const gB = g.append("g").attr("transform", `translate(0,${y1})`).call(axB).call(style);
  // the last step label sits a little inside the right edge
  gB.selectAll(".tick text").filter(d => d === 2000).attr("dx", -6);
  g.append("g").attr("transform", `translate(0,${y0})`).call(axT).call(style);
  g.append("g").attr("transform", `translate(${x0},0)`).call(axL).call(style);
  g.append("g").attr("transform", `translate(${x1},0)`).call(axR).call(style);

  // frame
  g.append("rect").attr("x", x0).attr("y", y0).attr("width", x1 - x0).attr("height", y1 - y0)
    .attr("fill", "none").attr("stroke", axisColor).attr("stroke-width", 1);

  // axis titles
  g.append("text").attr("x", (x0 + x1) / 2).attr("y", y1 + 38.5)
    .attr("text-anchor", "middle").attr("font-size", 18).text("Time steps");
  g.append("text")
    .attr("transform", `translate(${x0 - p.ylabOff},${(y0 + y1) / 2}) rotate(-90)`)
    .attr("text-anchor", "middle").attr("dy", "0.35em").attr("font-size", 18)
    .text("Average achievable rate(bits/s/Hz)");

  // legend
  const [lx, ly, lw, lh, lFirst, lStep] = p.legend;
  const lg = g.append("g");
  lg.append("rect").attr("x", lx + 0.5).attr("y", ly + 0.5).attr("width", lw).attr("height", lh)
    .attr("fill", "#fff").attr("stroke", axisColor).attr("stroke-width", 1);
  seriesNames.forEach((name, si) => {
    const cy = ly + lFirst + si * lStep;
    lg.append("line").attr("x1", lx + 3).attr("x2", lx + 33).attr("y1", cy).attr("y2", cy)
      .attr("stroke", colors[si]).attr("stroke-width", 2.2);
    const t = lg.append("text").attr("x", lx + 35).attr("y", cy).attr("dy", "0.33em")
      .attr("font-size", 14);
    richText(t, name);
  });

  // caption
  const cap = svg.append("text").attr("x", p.capX).attr("y", p.capY)
    .attr("text-anchor", "middle").attr("font-size", 21.5).attr("font-family", serif);
  cap.append("tspan").text(captionTags[pi]);
  cap.append("tspan").attr("dx", 9).text(captionTexts[pi]);
});
</script>
</body>
</html>
